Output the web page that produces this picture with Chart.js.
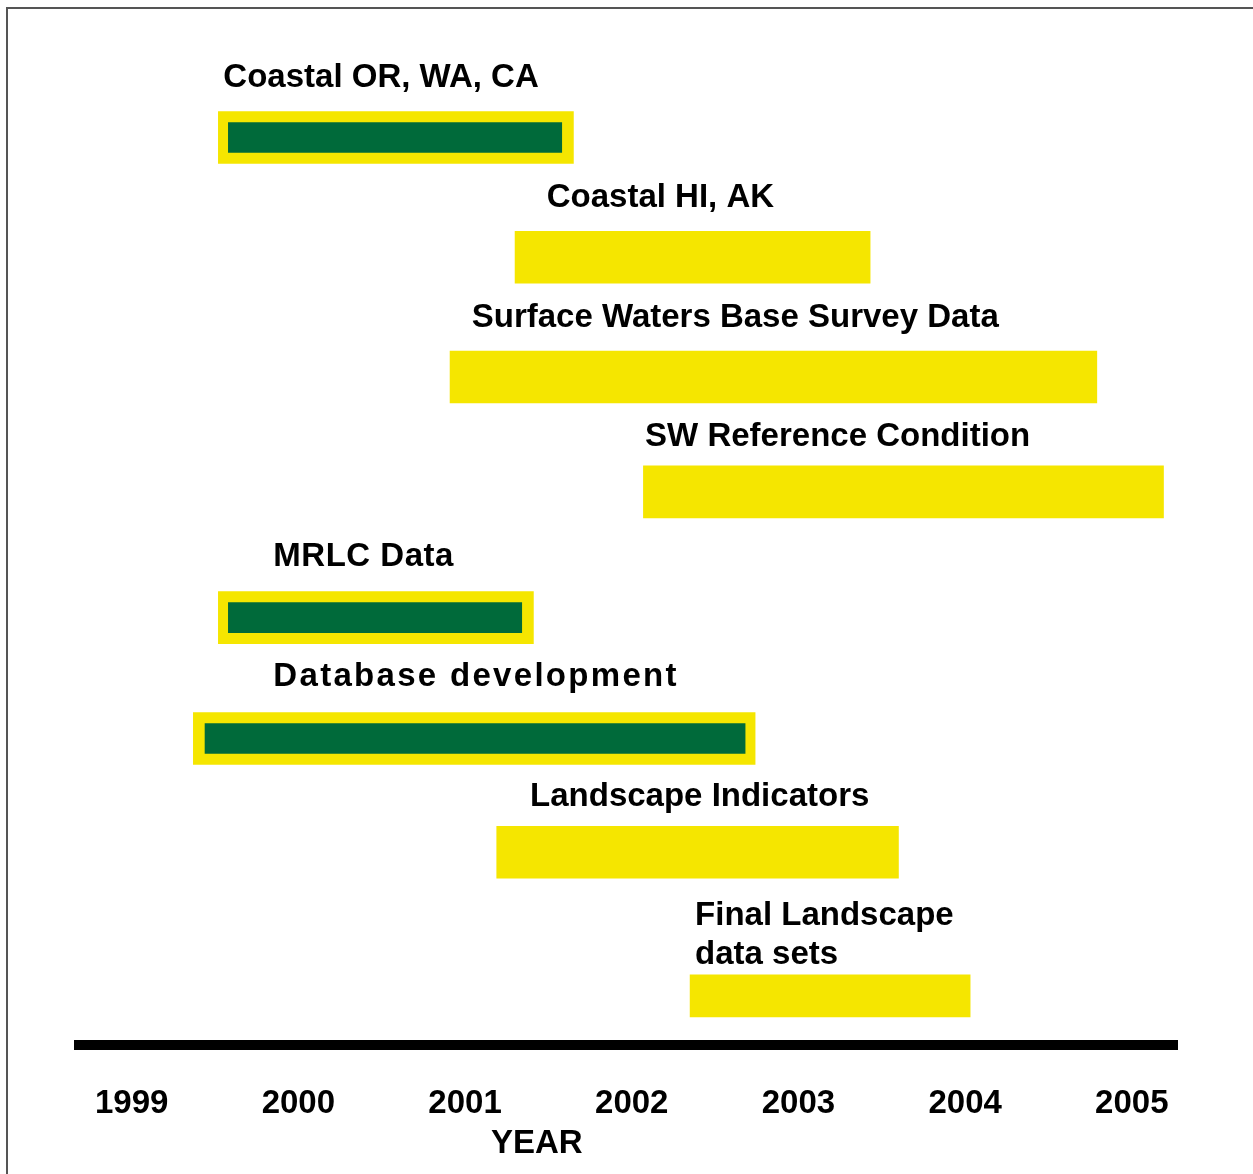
<!DOCTYPE html>
<html>
<head>
<meta charset="utf-8">
<script src="https://cdn.jsdelivr.net/npm/chart.js@4"></script>
<style>
  html, body { margin: 0; padding: 0; background: #fff; }
  canvas { display: block; }
</style>
</head>
<body>
<canvas id="timeline" width="1253" height="1174"></canvas>
<script>
// 工程表のデータ (年単位)
const tasks = [
  'Coastal OR, WA, CA',
  'Coastal HI, AK',
  'Surface Waters Base Survey Data',
  'SW Reference Condition',
  'MRLC Data',
  'Database development',
  'Landscape Indicators',
  ['Final Landscape', 'data sets']
];
const barStart = [1999.52, 2001.30, 2000.91, 2002.07, 1999.52, 1999.37, 2001.19, 2002.35];
const barEnd   = [2001.65, 2003.43, 2004.79, 2005.19, 2001.41, 2002.74, 2003.60, 2004.03];
// 完了済み (緑) の区間
const doneStart = [1999.58, null, null, null, 1999.58, 1999.44, null, null];
const doneEnd   = [2001.58, null, null, null, 2001.34, 2002.68, null, null];
// 行の位置
const rowPos = [0, 1, 2, 2.96, 4.01, 5.02, 5.97, 7.17];
// ラベルの開始年と字間
const labelStart = [1999.55, 2001.49, 2001.04, 2002.08, 1999.85, 1999.85, 2001.39, 2002.38];
const labelSpacing = [0, 0, 0, 0, 0.5, 2.3, 0, 0];
const tickYears = [1999, 2000, 2001, 2002, 2003, 2004, 2005];

const YELLOW = '#F5E600';
const GREEN = '#006A3A';
const FONT = '"Liberation Sans", Arial, sans-serif';

const lastRow = tasks.length - 1;
const yellowMain = [];
const yellowLast = [];
const greenBars = [];
tasks.forEach((t, i) => {
  const pt = { x: [barStart[i], barEnd[i]], y: rowPos[i] };
  if (i === lastRow) yellowLast.push(pt); else yellowMain.push(pt);
  if (doneStart[i] !== null) greenBars.push({ x: [doneStart[i], doneEnd[i]], y: rowPos[i] });
});

// 枠線とバーのラベルを描くプラグイン
const frameAndLabels = {
  id: 'frameAndLabels',
  beforeDraw(chart) {
    const ctx = chart.ctx;
    ctx.save();
    ctx.strokeStyle = '#555';
    ctx.lineWidth = 2;
    ctx.beginPath();
    ctx.moveTo(7, chart.height);
    ctx.lineTo(7, 8);
    ctx.lineTo(chart.width, 8);
    ctx.stroke();
    ctx.restore();
  },
  afterDatasetsDraw(chart) {
    const { ctx, scales: { x, y } } = chart;
    ctx.save();
    ctx.font = 'bold 33px ' + FONT;
    ctx.fillStyle = '#000';
    ctx.textBaseline = 'alphabetic';
    ctx.textAlign = 'left';
    tasks.forEach((t, i) => {
      const lines = Array.isArray(t) ? t : [t];
      const px = x.getPixelForValue(labelStart[i]);
      const py = y.getPixelForValue(i - 0.52) + 12;
      ctx.letterSpacing = labelSpacing[i] + 'px';
      lines.forEach((ln, j) => ctx.fillText(ln, px, py + j * 39));
    });
    ctx.letterSpacing = '0px';
    ctx.textAlign = 'center';
    ctx.fillText('YEAR', x.getPixelForValue(2001.43), 1153);
    ctx.restore();
  }
};

new Chart(document.getElementById('timeline'), {
  type: 'bar',
  data: {
    datasets: [
      { data: greenBars, backgroundColor: GREEN, barThickness: 30, grouped: false, order: 0 },
      { data: yellowMain, backgroundColor: YELLOW, barThickness: 52, grouped: false, order: 1 },
      { data: yellowLast, backgroundColor: YELLOW, barThickness: 42, grouped: false, order: 1 }
    ]
  },
  options: {
    indexAxis: 'y',
    responsive: false,
    animation: false,
    layout: { padding: { left: 79, right: 76, top: 17.8, bottom: 0 } },
    plugins: { legend: { display: false }, tooltip: { enabled: false } },
    scales: {
      x: {
        type: 'linear',
        position: 'bottom',
        min: 1998.684,
        max: 2005.271,
        afterBuildTicks: (scale) => { scale.ticks = tickYears.map(v => ({ value: v })); },
        afterFit: (scale) => { scale.height = 129; },
        grid: { display: false, drawTicks: false },
        border: { display: true, color: '#000', width: 10 },
        ticks: {
          padding: 39,
          color: '#000',
          font: { family: FONT, size: 33, weight: 'bold' },
          callback: (v) => String(v)
        }
      },
      y: {
        type: 'linear',
        display: false,
        reverse: true,
        offset: false,
        min: -1,
        max: 7.58
      }
    }
  },
  plugins: [frameAndLabels]
});
</script>
</body>
</html>
